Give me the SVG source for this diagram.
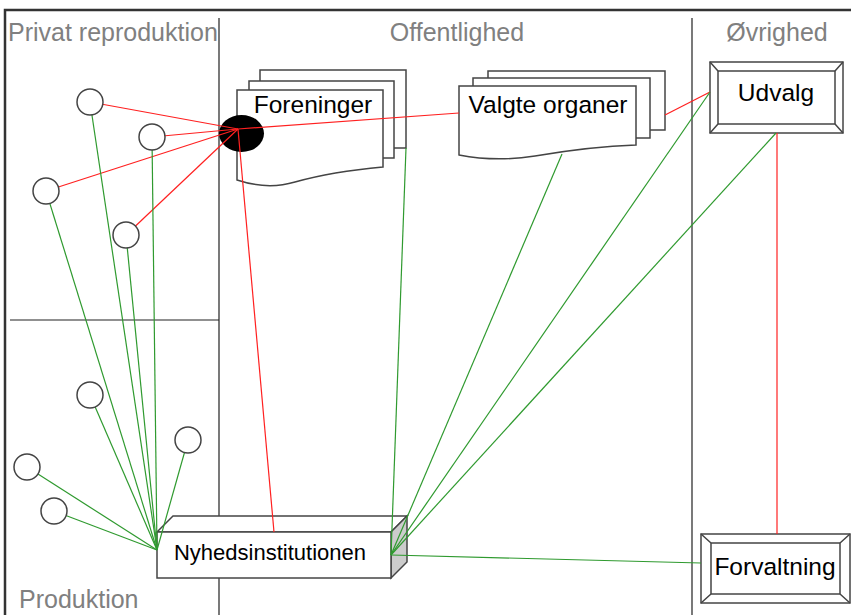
<svg xmlns="http://www.w3.org/2000/svg" width="851" height="615" viewBox="0 0 851 615">
<style>
.frame{fill:none;stroke:#333;stroke-width:2.5}
.div{fill:none;stroke:#222;stroke-width:1.2}
.area{font-family:"Liberation Sans",Arial,sans-serif;font-size:25px;fill:#808080}
.lbl{font-family:"Liberation Sans",Arial,sans-serif;font-size:24.5px;fill:#000}
.shape{fill:#fff;stroke:#444;stroke-width:1.5}
.circ{fill:#fff;stroke:#444;stroke-width:1.5}
.red{stroke:#ff2020;stroke-width:1.2;fill:none}
.green{stroke:#2f9a2f;stroke-width:1.2;fill:none}
</style>
<rect width="851" height="615" fill="#fff"/>
<g id="frame">
<path class="frame" d="M5,617 V10 H853"/>
<path class="div" d="M219,18 V615 M692,18 V615 M10,320 H219"/>
<text class="area" x="8" y="41">Privat reproduktion</text>
<text class="area" x="457" y="41" text-anchor="middle">Offentlighed</text>
<text class="area" x="777" y="41" text-anchor="middle">Øvrighed</text>
<text class="area" x="19" y="608">Produktion</text>
</g>
<g id="foreninger">
<rect class="shape" x="260" y="70" width="146" height="78"/>
<rect class="shape" x="249" y="81" width="145" height="77"/>
<path class="shape" d="M237,90 H383 V167 C350,170 320,175 295,182 C275,188 255,186 237,180 Z"/>
<text class="lbl" x="313" y="113" text-anchor="middle">Foreninger</text>
</g>
<g id="valgte-organer">
<rect class="shape" x="488" y="71" width="177" height="59"/>
<rect class="shape" x="473" y="78" width="177" height="60"/>
<path class="shape" d="M459,86 H636 V145 C605,146 570,150 535,156 C510,160 485,160 459,155 Z"/>
<text class="lbl" x="548" y="113" text-anchor="middle">Valgte organer</text>
</g>
<g id="udvalg">
<rect class="shape" x="710" y="62" width="133" height="71"/>
<rect class="shape" x="718" y="71" width="117" height="53"/>
<path class="shape" d="M710,62 L718,71 M843,62 L835,71 M710,133 L718,124 M843,133 L835,124"/>
<text class="lbl" x="776" y="101" text-anchor="middle">Udvalg</text>
</g>
<g id="forvaltning">
<rect class="shape" x="701" y="534" width="149" height="69"/>
<rect class="shape" x="711" y="543" width="129" height="51"/>
<path class="shape" d="M701,534 L711,543 M850,534 L840,543 M701,603 L711,594 M850,603 L840,594"/>
<text class="lbl" x="775" y="575" text-anchor="middle">Forvaltning</text>
</g>
<g id="nyhedsinstitutionen">
<polygon class="shape" points="157,532 173,516 407,516 391,532"/>
<polygon class="shape" points="391,532 407,516 407,562 391,578" style="fill:#cccccc"/>
<rect class="shape" x="157" y="532" width="234" height="46"/>
<text class="lbl" x="270" y="560" text-anchor="middle" style="font-size:22px">Nyhedsinstitutionen</text>
</g>
<g id="hub">
<ellipse cx="241.5" cy="133.5" rx="22.5" ry="18.5" fill="#000"/>
</g>
<g id="connectors">
<line class="red" x1="90" y1="102" x2="238" y2="129"/>
<line class="red" x1="152" y1="137" x2="238" y2="129"/>
<line class="red" x1="46" y1="191" x2="238" y2="129"/>
<line class="red" x1="126" y1="235" x2="238" y2="129"/>
<line class="red" x1="238" y1="129" x2="459" y2="113"/>
<line class="red" x1="238" y1="129" x2="274" y2="532"/>
<line class="red" x1="665" y1="115" x2="710" y2="92"/>
<line class="red" x1="777" y1="133" x2="777" y2="534"/>
<line class="green" x1="90" y1="102" x2="157" y2="550"/>
<line class="green" x1="152" y1="137" x2="157" y2="550"/>
<line class="green" x1="46" y1="191" x2="157" y2="550"/>
<line class="green" x1="126" y1="235" x2="157" y2="550"/>
<line class="green" x1="90" y1="395" x2="157" y2="550"/>
<line class="green" x1="188" y1="440" x2="157" y2="550"/>
<line class="green" x1="27" y1="467" x2="157" y2="550"/>
<line class="green" x1="54" y1="511" x2="157" y2="550"/>
<line class="green" x1="391" y1="555" x2="406" y2="148"/>
<line class="green" x1="391" y1="555" x2="562" y2="154"/>
<line class="green" x1="391" y1="555" x2="710" y2="92"/>
<line class="green" x1="391" y1="555" x2="776" y2="133"/>
<line class="green" x1="391" y1="555" x2="701" y2="563"/>
</g>
<g id="person-1"><circle class="circ" cx="90" cy="102" r="13"/></g>
<g id="person-2"><circle class="circ" cx="152" cy="137" r="13"/></g>
<g id="person-3"><circle class="circ" cx="46" cy="191" r="13"/></g>
<g id="person-4"><circle class="circ" cx="126" cy="235" r="13"/></g>
<g id="person-5"><circle class="circ" cx="90" cy="395" r="13"/></g>
<g id="person-6"><circle class="circ" cx="188" cy="440" r="13"/></g>
<g id="person-7"><circle class="circ" cx="27" cy="467" r="13"/></g>
<g id="person-8"><circle class="circ" cx="54" cy="511" r="13"/></g>
</svg>
